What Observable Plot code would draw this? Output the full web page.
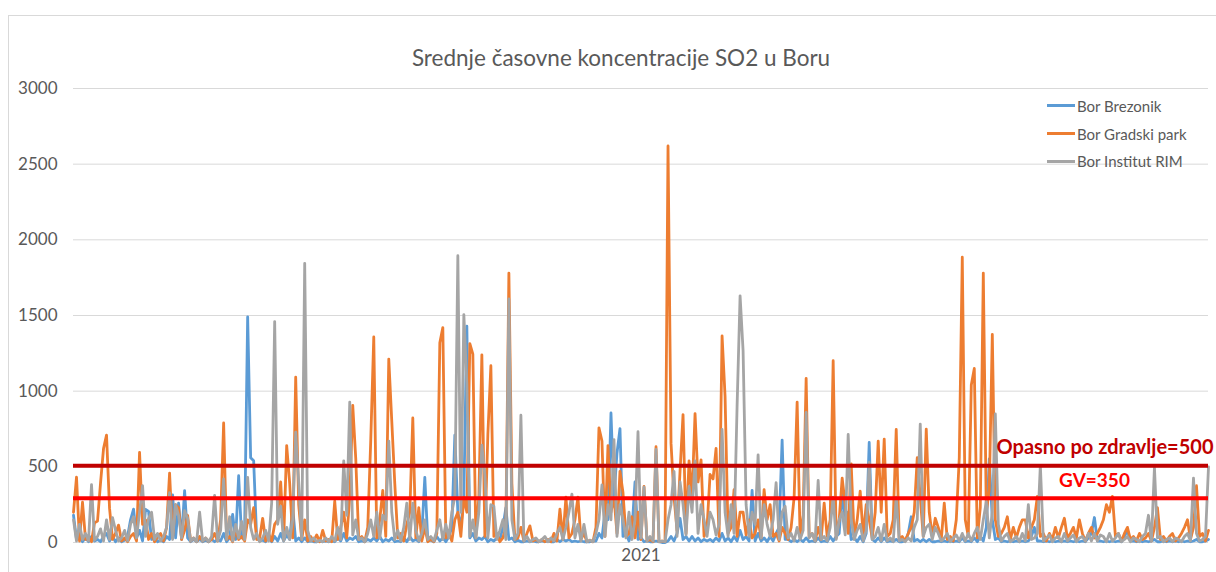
<!DOCTYPE html>
<html><head><meta charset="utf-8">
<script src="https://cdn.jsdelivr.net/npm/d3@7"></script>
<script src="https://cdn.jsdelivr.net/npm/@observablehq/plot@0.6"></script>
<style>
html,body{margin:0;padding:0;background:#fff;overflow:hidden;}
body{width:1216px;height:572px;position:relative;font-family:Lato,"Open Sans",sans-serif;color:#595959;}
#frame{position:absolute;left:8px;top:15px;width:1230px;height:580px;border:1px solid #d9d9d9;box-sizing:border-box;}
#title{position:absolute;left:621px;top:45px;transform:translateX(-50%);font-size:22.5px;line-height:26px;white-space:nowrap;}
#chart{position:absolute;left:0;top:80px;}
#legend{position:absolute;left:1047px;top:92px;font-size:15px;}
.item{display:flex;align-items:center;height:27.7px;white-space:nowrap;}
.sw{width:28px;height:3px;margin-right:2px;}
</style></head><body>
<div id="frame"></div>
<div id="title">Srednje časovne koncentracije SO2 u Boru</div>
<div id="chart"></div>
<div id="legend"></div>
<script>
const seriesNames = ["Bor Brezonik", "Bor Gradski park", "Bor Institut RIM"];
const seriesColors = ["#5b9bd5", "#ed7d31", "#a5a5a5"];
const yTicks = [0, 500, 1000, 1500, 2000, 2500, 3000];
const yTickLabels = ["0", "500", "1000", "1500", "2000", "2500", "3000"];
const xTickIndex = [189];
const xTickLabels = ["2021"];
const limitValues = [507, 292];
const limitLabels = ["Opasno po zdravlje=500", "GV=350"];

const brezonik = [
180,20,30,5,30,5,40,10,20,5,40,60,10,40,5,30,5,15,40,150,
220,30,80,10,219,205,20,40,5,15,5,40,20,315,30,260,20,343,30,5,
20,5,20,5,15,5,20,5,20,10,60,5,30,185,20,441,30,100,1490,560,
540,30,10,15,5,30,5,40,10,60,10,50,20,230,10,30,5,30,5,10,
5,5,10,5,10,5,10,5,30,10,60,10,30,20,40,5,10,5,20,10,
30,10,40,5,20,10,30,5,10,5,30,5,40,10,20,5,60,430,10,15,
5,40,10,30,5,40,100,710,200,100,300,1430,30,60,10,30,20,40,5,20,
10,30,20,100,230,20,30,5,15,5,5,10,5,10,5,5,10,5,10,5,
5,20,5,20,10,20,5,10,5,10,5,5,5,10,10,60,30,200,150,856,
300,590,753,40,60,10,80,400,20,30,5,10,5,5,10,5,0,0,10,40,
10,60,160,20,40,10,40,10,30,5,20,10,20,5,30,10,60,10,30,5,
40,10,80,20,40,10,345,10,60,10,30,5,40,10,60,100,677,20,20,5,
20,5,20,5,30,5,10,5,30,5,10,5,40,10,40,60,350,100,200,20,
30,5,40,5,60,661,20,5,30,5,30,5,10,5,20,5,5,10,60,170,
10,20,5,20,5,20,5,5,10,5,10,5,10,5,10,5,30,5,10,5,
30,5,40,10,100,553,150,20,30,5,10,5,10,5,10,5,10,5,10,40,
100,10,10,5,10,5,10,5,10,5,10,5,10,5,10,5,10,5,30,60,
165,10,10,5,10,5,10,5,10,5,40,80,10,10,5,10,5,10,5,10,
20,5,5,10,5,10,5,10,5,10,5,10,5,10,20,5,5,10,20
];

const gradskiPark = [
200,432,10,266,20,30,5,130,142,393,620,710,227,20,60,115,10,30,5,40,
60,10,596,120,150,20,60,5,40,60,10,100,458,30,250,230,20,80,180,10,
30,5,40,10,30,5,20,60,10,150,790,20,40,5,80,20,40,10,150,120,
230,20,30,160,10,60,10,120,150,400,20,640,390,30,1092,250,20,150,10,40,
10,50,5,80,10,20,5,273,20,100,200,30,300,906,555,20,40,5,100,677,
1358,30,150,345,40,1212,801,390,30,60,10,120,200,823,30,230,10,100,5,20,
5,60,1320,1420,30,60,10,150,200,40,300,200,1314,1244,30,300,1240,40,714,1168,
40,60,5,30,100,1780,390,20,30,100,10,60,110,10,20,5,20,5,20,5,
60,10,220,20,300,30,60,150,300,20,60,5,15,5,100,758,670,40,640,200,
300,60,470,330,40,60,170,30,200,20,370,10,20,5,633,5,10,5,2620,655,
300,80,470,845,60,540,300,852,400,546,40,100,450,420,622,40,1365,965,60,100,
350,40,200,200,50,150,30,60,150,30,350,150,250,40,60,10,100,60,20,100,
300,928,30,180,1085,40,60,10,100,20,260,40,150,1201,30,150,426,250,60,520,
30,150,340,40,250,150,30,200,670,200,683,40,60,150,747,20,40,10,60,100,
200,560,300,40,749,200,40,160,100,20,260,20,40,10,150,560,1885,150,40,1040,
1150,30,230,1780,200,350,1375,150,40,60,100,170,20,100,30,100,150,150,30,100,
150,305,40,60,10,60,20,100,30,100,160,30,60,100,30,150,60,10,60,100,
30,60,100,150,250,200,305,40,60,10,60,100,20,40,10,60,20,30,60,10,
100,230,20,40,10,40,60,10,30,60,100,150,20,100,375,40,60,10,80
];

const institutRim = [
150,10,120,20,60,10,382,15,40,90,10,150,20,164,80,10,30,80,10,120,
170,30,200,376,40,160,200,20,60,10,40,100,330,20,250,180,30,210,160,10,
30,5,200,10,30,5,40,312,10,80,420,20,170,10,120,30,140,20,430,100,
20,60,5,30,80,10,262,1460,120,240,10,100,20,150,730,400,20,1845,80,10,
30,5,15,5,30,5,40,10,100,20,540,180,928,50,150,20,30,5,60,150,
40,200,30,180,150,670,200,20,80,10,100,260,20,260,80,10,60,150,20,40,
10,80,150,20,120,30,200,300,1895,200,1506,1050,40,150,30,200,644,445,30,250,
240,20,80,150,20,1609,150,20,60,841,10,40,5,20,30,5,20,40,5,30,
10,60,100,20,100,200,320,30,120,10,120,5,15,5,60,150,380,40,250,150,
680,40,250,150,30,200,20,150,732,30,365,10,40,10,615,5,10,5,150,250,
470,40,400,250,50,370,200,540,60,250,150,40,200,150,50,120,747,200,40,250,
60,900,1630,1266,250,40,200,120,579,30,250,120,40,150,395,20,200,240,30,60,
10,100,20,80,860,30,60,10,410,20,40,10,100,300,20,150,200,50,714,150,
20,80,120,10,80,530,20,40,100,10,120,10,30,5,300,10,20,5,30,10,
100,150,782,40,100,120,20,100,60,10,30,60,5,30,50,10,60,10,60,10,
60,100,20,150,270,30,200,850,120,10,40,60,5,20,40,5,60,10,250,20,
30,60,510,10,30,50,5,30,40,5,60,10,30,50,5,30,40,10,60,10,
60,10,50,40,5,60,10,30,60,5,20,40,5,30,20,5,40,60,180,10,
495,30,40,5,20,30,5,30,20,5,40,60,10,426,60,10,20,40,500
];

const allSeries = [brezonik, gradskiPark, institutRim];
const n = brezonik.length;
if (gradskiPark.length !== n || institutRim.length !== n) {
  throw new Error("length mismatch " + brezonik.length + " " + gradskiPark.length + " " + institutRim.length);
}

const lineMarks = allSeries.map((vals, k) =>
  Plot.line(vals.map((v, i) => ({i, v})), {
    x: "i", y: "v", stroke: seriesColors[k], strokeWidth: 2.8,
    strokeLinejoin: "round", strokeLinecap: "round"
  })
);

const limits = limitValues.map((v, k) => ({value: v, label: limitLabels[k]}));

const chart = Plot.plot({
  width: 1216,
  height: 492,
  marginLeft: 73,
  marginRight: 8,
  marginTop: 8,
  marginBottom: 30,
  style: {fontFamily: "Lato, 'Open Sans', sans-serif", fontSize: "17px", color: "#595959", background: "transparent", overflow: "visible"},
  x: {domain: [0, n - 1], label: null},
  y: {domain: [0, 3000], label: null},
  marks: [
    Plot.gridY(yTicks.filter(d => d > 0), {stroke: "#d9d9d9", strokeOpacity: 1, strokeWidth: 1}),
    Plot.ruleY([0], {stroke: "#d9d9d9"}),
    ...lineMarks,
    Plot.ruleY([limits[0]], {y: "value", stroke: "#c00000", strokeWidth: 4}),
    Plot.ruleY([limits[1]], {y: "value", stroke: "#ff0000", strokeWidth: 4}),
    Plot.text([limits[0]], {y: "value", text: "label", frameAnchor: "right", textAnchor: "end", dx: 5, dy: -18,
      fill: "#c00000", fontWeight: "bold", fontSize: 20}),
    Plot.text([limits[1]], {y: "value", text: "label", frameAnchor: "right", textAnchor: "middle", dx: -114, dy: -17,
      fill: "#ff0000", fontWeight: "bold", fontSize: 19}),
    Plot.axisY({ticks: yTicks, tickFormat: d => yTickLabels[yTicks.indexOf(d)], tickSize: 0, tickPadding: 16, fontSize: 17, label: null}),
    Plot.axisX({ticks: xTickIndex, tickFormat: d => xTickLabels[xTickIndex.indexOf(d)], tickSize: 0, tickPadding: 6, fontSize: 17, label: null})
  ]
});
document.getElementById("chart").appendChild(chart);

const legend = document.getElementById("legend");
seriesNames.forEach((name, k) => {
  const row = document.createElement("div");
  row.className = "item";
  const sw = document.createElement("span");
  sw.className = "sw";
  sw.style.background = seriesColors[k];
  const t = document.createElement("span");
  t.textContent = name;
  row.appendChild(sw);
  row.appendChild(t);
  legend.appendChild(row);
});
</script>
</body></html>
